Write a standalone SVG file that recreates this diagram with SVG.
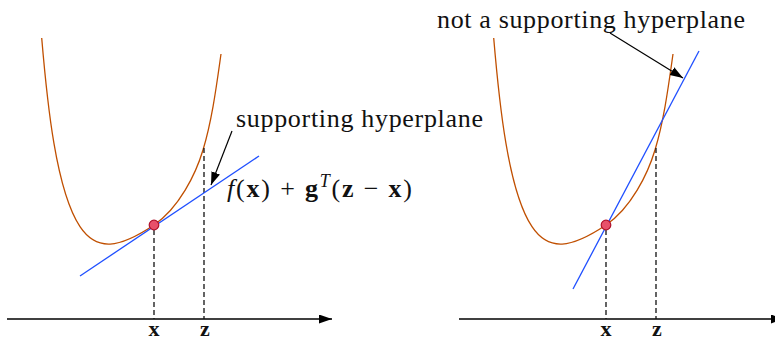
<svg xmlns="http://www.w3.org/2000/svg" xmlns:xlink="http://www.w3.org/1999/xlink" width="775" height="341" viewBox="0 0 775 341">
  <style>
    .curve { fill: none; stroke: #c04f00; stroke-width: 1.3; }
    .hyper { fill: none; stroke: #1f4fff; stroke-width: 1.3; }
    .axis { fill: none; stroke: #000; stroke-width: 1.3; }
    .dash { fill: none; stroke: #111; stroke-width: 1.3; stroke-dasharray: 5 3; }
    .ann { fill: none; stroke: #000; stroke-width: 1.2; }
    .pt { fill: #e8506a; stroke: #b0102a; stroke-width: 1.2; }
    .lbl { font-family: "Liberation Serif", "DejaVu Serif", serif; font-size: 26px; fill: #111; }
    .tick { font-family: "Liberation Serif", "DejaVu Serif", serif; font-size: 22px; font-weight: bold; fill: #111; text-anchor: middle; }
  </style>
  <defs>
    <marker id="arrow" markerUnits="userSpaceOnUse" markerWidth="14" markerHeight="10" refX="13" refY="4.5" orient="auto">
      <path d="M0,0 L13,4.5 L0,9 Z" fill="#000"/>
    </marker>
    <path id="f" d="M41.7,38 C47.2,103 56,190.7 80,226.7 C96.6,251.7 119,248.5 154,225 C179,208.25 195.8,173.95 203,150 C212.2,119.3 216.5,85.7 221,54"/>
  </defs>

  <g id="left-panel">
    <g id="left-axis">
      <line class="axis" x1="7" y1="319" x2="332" y2="319" marker-end="url(#arrow)"/>
    </g>
    <g id="left-curve">
      <use xlink:href="#f" href="#f" class="curve"/>
    </g>
    <g id="left-connectors">
      <line class="dash" x1="154" y1="230" x2="154" y2="319"/>
      <line class="dash" x1="204" y1="148" x2="204" y2="319"/>
      <line class="hyper" x1="80" y1="276" x2="259" y2="156"/>
      <line class="ann" x1="232" y1="131" x2="211" y2="185" marker-end="url(#arrow)"/>
    </g>
    <g id="left-point">
      <circle class="pt" cx="154" cy="225" r="4.8"/>
    </g>
    <g id="left-labels">
      <text class="tick" x="154" y="336">x</text>
      <text class="tick" x="205" y="336">z</text>
      <text class="lbl" x="236" y="127" textLength="247">supporting hyperplane</text>
      <text class="lbl" x="227" y="197" textLength="185"><tspan font-style="italic">f</tspan>(<tspan font-weight="bold">x</tspan>) + <tspan font-weight="bold">g</tspan><tspan font-style="italic" font-size="18px" dy="-10">T</tspan><tspan dy="10">(</tspan><tspan font-weight="bold">z</tspan> − <tspan font-weight="bold">x</tspan>)</text>
    </g>
  </g>

  <g id="right-panel">
    <g id="right-axis">
      <line class="axis" x1="459" y1="319" x2="784" y2="319" marker-end="url(#arrow)"/>
    </g>
    <g id="right-curve">
      <use xlink:href="#f" href="#f" class="curve" transform="translate(452,0)"/>
    </g>
    <g id="right-connectors">
      <line class="dash" x1="606" y1="230" x2="606" y2="319"/>
      <line class="dash" x1="656" y1="148" x2="656" y2="319"/>
      <line class="hyper" x1="573" y1="289" x2="699" y2="51"/>
      <line class="ann" x1="610" y1="33" x2="683" y2="78" marker-end="url(#arrow)"/>
    </g>
    <g id="right-point">
      <circle class="pt" cx="606" cy="225" r="4.8"/>
    </g>
    <g id="right-labels">
      <text class="tick" x="606" y="336">x</text>
      <text class="tick" x="657" y="336">z</text>
      <text class="lbl" x="437" y="28" textLength="308">not a supporting hyperplane</text>
    </g>
  </g>
</svg>
